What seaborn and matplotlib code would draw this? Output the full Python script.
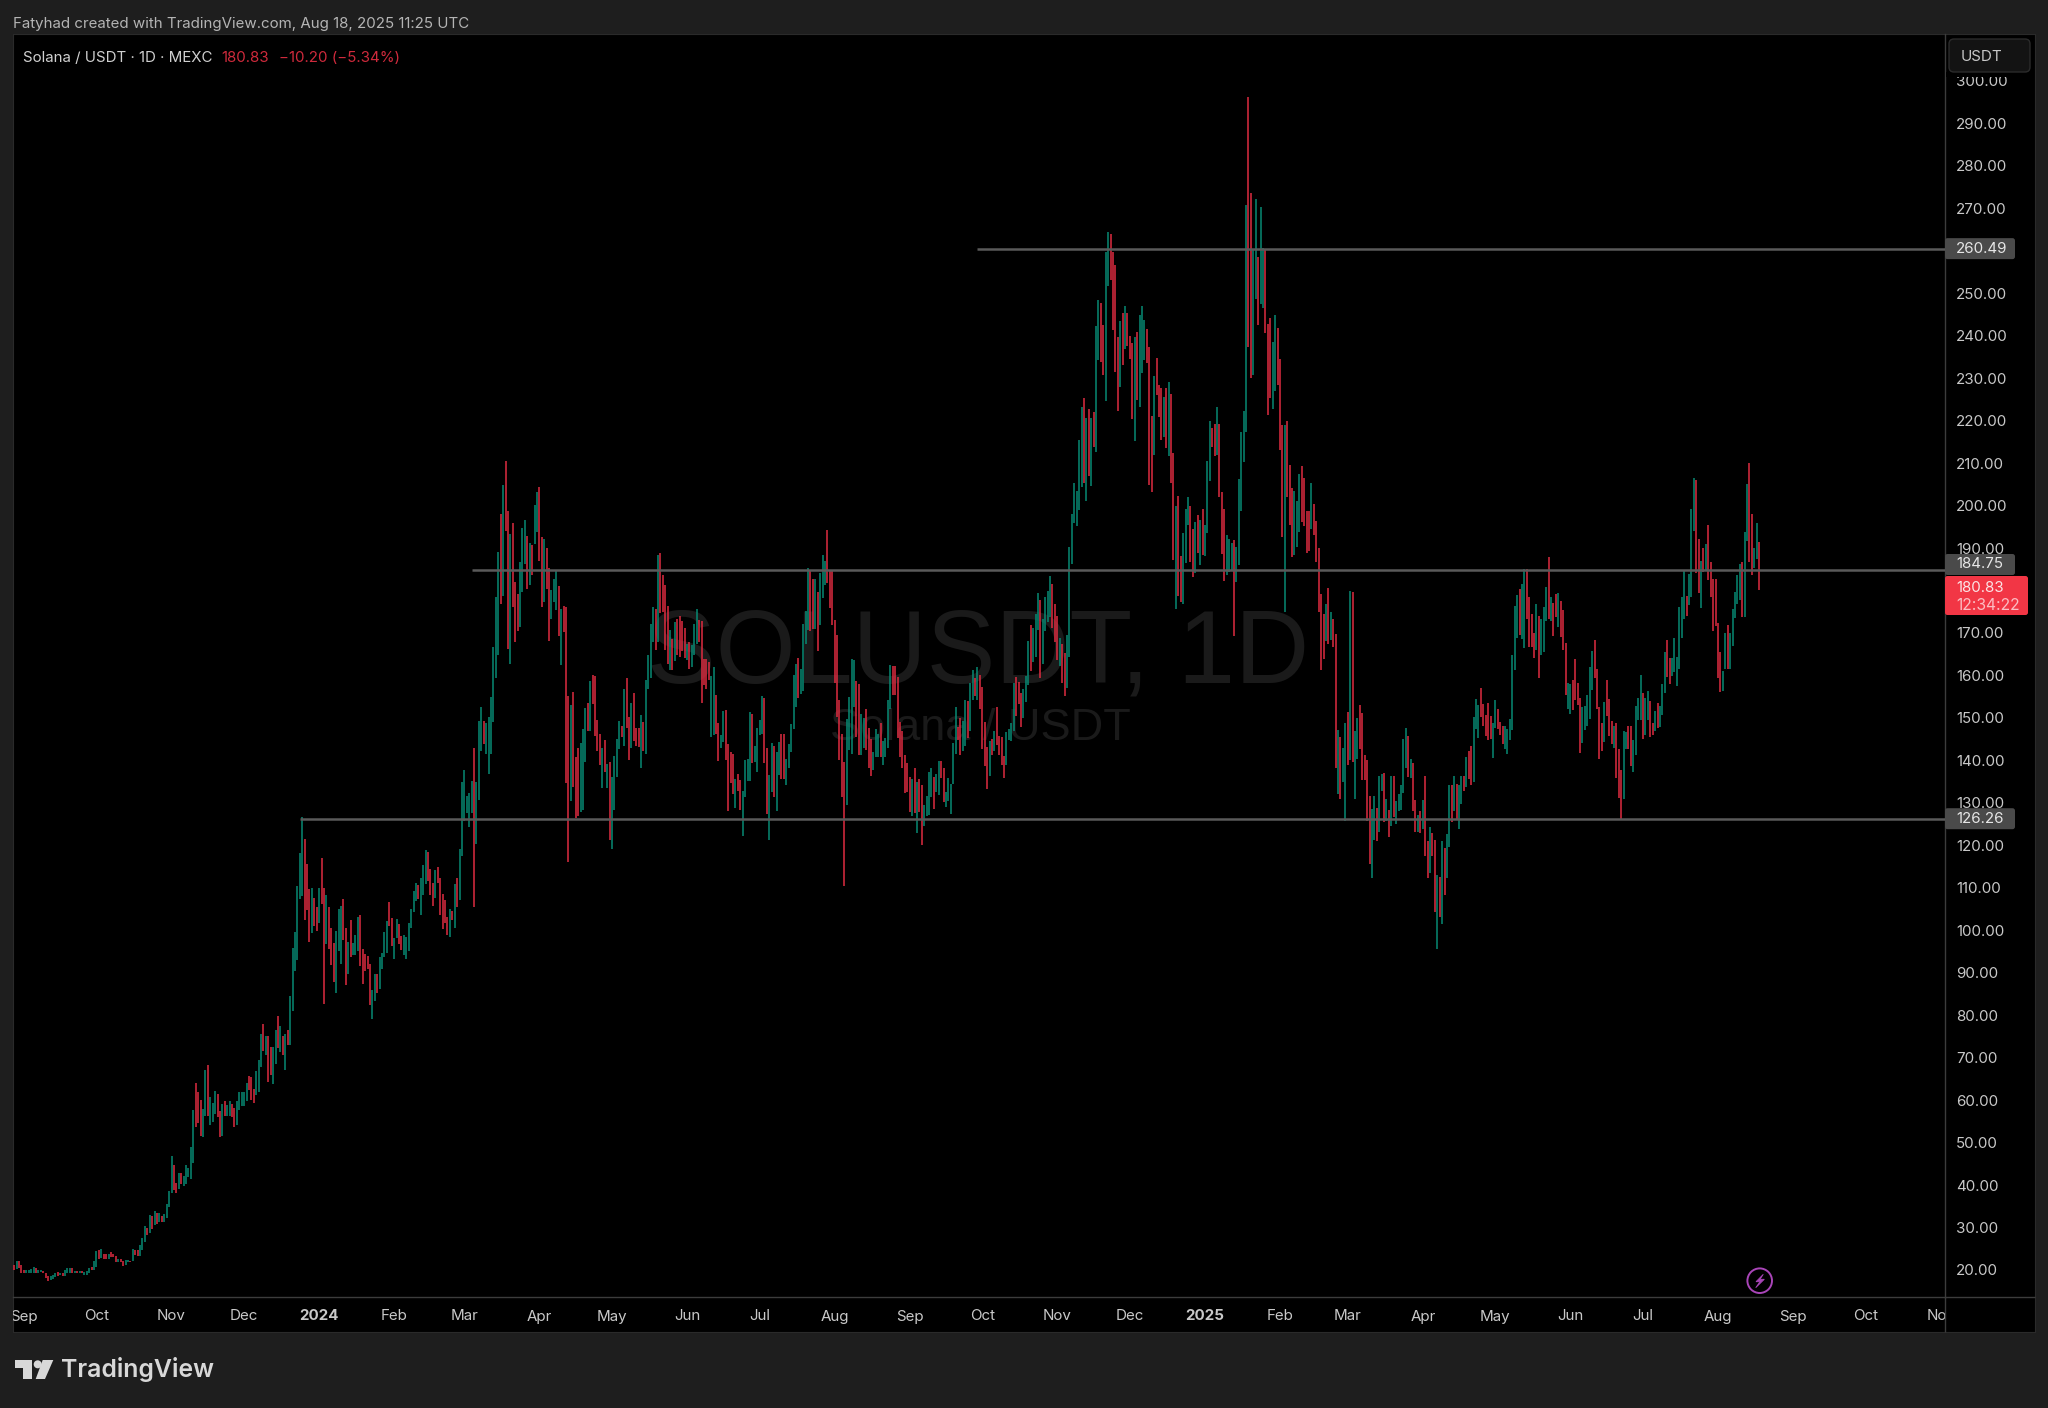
import matplotlib
matplotlib.use('Agg')
import matplotlib.pyplot as plt
import numpy as np
import pandas as pd
import seaborn as sns
from matplotlib.patches import Circle, FancyBboxPatch, Polygon, Rectangle
from matplotlib.transforms import Bbox


# Daily bars, left to right (price in USDT). u = up, d = down
highs_a = [21.2,22.1,22.0,21.2,20.0,19.9,20.0,20.2,20.6,20.4,
           20.1,20.1,19.8,19.4,18.6,18.7,18.8,19.4,19.5,19.4,
           19.4,20.1,20.4,20.5,20.5,19.8,19.8,19.8,19.7,19.6,
           19.8,20.4,20.6,22.0,24.5,24.8]
lows_a = [20.0,20.2,20.4,19.4,19.2,19.2,19.2,19.2,19.4,19.4,
          19.4,19.5,19.4,18.0,17.5,17.6,17.9,18.3,18.6,18.8,
          18.7,18.6,19.2,19.4,19.4,19.2,19.2,19.2,19.2,18.8,
          18.9,19.2,20.0,20.0,20.8,22.7]
sides_a = 'duddduuuud' 'uuddduuudu' 'duuudududu' 'uuduud'

highs_b = [24.9,23.8,23.8,23.8,24.2,23.8,23.3,22.5,22.5,22.0,
           22.4,22.4,22.2,24.9,24.6,24.6,25.9,27.5,30.4,30.0,
           33.0,32.7,33.9,33.4,33.4,32.7,33.2,35.5,38.7,46.9,
           44.7,40.4,42.8,42.8,42.2,44.7,44.0,48.9,57.7,64.0,
           61.9,60.1,58.0,67.1,68.3,60.7,59.3,62.2,61.5,57.5,
           59.1,59.7,58.9,59.8,59.1,58.1,59.7,61.9,61.9,61.9,
           64.0,65.7,65.4,62.6,66.9,69.5,75.5,78.0,75.1,75.1,
           72.6,72.6,76.4,79.7,77.5,75.1,75.5,76.5,84.4,95.8,
           99.6,110.3,118.1,126.6,121.4,115.5,109.7,109.9,107.7,105.4,
           109.9,117.1,109.9,108.2,105.4,100.5,96.9,99.9,105.0,105.6,
           107.4,100.5,97.2,102.4,96.9,98.8,103.0,103.6,95.5,94.4,
           94.0,92.1,86.0,89.6,89.7,93.6,94.6,99.6,102.2,106.6,
           102.8,98.2,102.6,101.4,98.7,98.9,98.5,101.7,105.0,109.3,
           111.1,110.7,112.4,115.4,118.8,118.5,114.5,111.1,114.2,114.9,
           112.3,108.5,107.2,103.2,105.0,104.6,110.9,112.3,119.2]
lows_b = [22.8,22.5,22.5,22.5,23.0,23.0,21.8,21.8,21.8,21.0,
          21.2,21.8,21.8,22.0,23.6,23.4,23.4,24.7,26.7,28.3,
          28.7,29.6,30.6,30.9,31.4,31.4,31.4,32.2,34.8,38.1,
          38.9,38.2,39.0,40.2,39.8,40.3,42.0,41.5,45.1,53.6,
          54.7,51.6,51.2,56.3,56.3,54.2,54.8,56.8,56.1,51.4,
          51.6,56.3,56.3,56.3,56.1,53.6,54.1,57.7,58.7,58.7,
          59.7,62.4,60.0,59.3,61.2,61.8,67.9,71.6,70.7,64.2,
          65.8,63.8,68.4,72.2,71.4,70.7,67.1,73.0,73.0,81.1,
          90.4,92.9,107.4,108.0,102.3,104.8,97.3,99.3,100.9,99.9,
          101.7,106.2,82.7,96.8,95.5,91.7,87.9,85.3,95.1,92.1,
          97.7,87.1,89.7,93.8,94.2,94.2,95.0,91.6,87.3,90.4,
          90.9,82.3,79.1,83.4,85.2,86.2,90.9,93.6,94.6,101.1,
          96.2,93.3,98.1,96.8,95.4,94.2,93.3,95.0,100.5,104.4,
          107.0,107.4,103.6,108.3,110.8,111.6,108.2,105.8,107.7,111.1,
          103.5,100.3,101.7,98.8,98.5,102.3,100.5,105.4,107.2]
sides_b = ('uddudddudd' 'uududduuud' 'udududuuuu' 'dduduuuuud' 'dduuduuudd'
           'uduudduuuu' 'uddduuudud' 'duudududuu' 'uuuudddudd' 'udduddduuu'
           'dduduuuddd' 'dduuduuuud' 'duudduuuuu' 'uduuudddud' 'ddddududu')

highs_c = [134.8,137.8,131.6,132.2,135.1,142.8,134.9,149.3,152.6,149.2,
           148.7,150.2,155.0,166.7,178.5,189.1,198.0,204.8,210.4,198.8,
           193.2,195.8,181.9,179.1,186.8,194.6,196.7,192.8,191.1,190.8,
           200.1,203.2,204.4,192.6,192.1,190.1,185.2,180.1,182.8,184.8,
           181.0,175.6,176.4,176.2,155.1,153.0,156.1,140.7,142.8,144.1,
           147.5,152.4,153.4,158.7,160.1,159.9,149.6,146.2,143.0,144.8,
           139.1,139.7,136.1,141.0,145.0,149.2,148.0,156.9,159.3,150.1,
           153.4,155.9,147.7,147.7,150.6,149.1,158.9,164.8,172.1,176.0,
           175.6,188.3,188.9,183.6,181.3,176.3,170.7,168.5,172.6,173.2,
           174.0,172.8,171.1,167.4,167.9,167.1,172.0,175.7,173.0,172.8,
           163.8,163.8,163.2,159.8,161.9,155.4,148.9,145.9,151.6,151.8,
           143.8,141.9,141.4,135.5,136.9,135.3,132.8,140.0,140.4,151.3,
           150.9,143.3,147.7,149.5,155.1,154.6,142.8,136.5,144.2,143.3,
           142.0,144.4,146.2,146.2,140.4,143.8,148.5,160.0,162.6,164.0,
           161.6,172.2,175.2,185.2,184.9,182.8,182.6,179.7,184.2,188.3,
           186.9,194.2,184.8,184.8,173.0,169.6,154.2]
lows_c = [117.4,125.8,127.5,124.4,127.5,105.4,120.3,130.6,142.2,143.8,
          141.6,136.7,141.6,149.0,159.5,164.8,176.9,178.7,194.0,166.2,
          162.8,176.0,167.8,170.5,171.4,179.7,186.2,180.3,181.3,183.6,
          190.9,193.8,187.0,176.2,177.2,180.3,168.1,173.2,177.2,175.4,
          169.3,162.4,170.3,134.7,116.1,130.5,133.8,126.5,126.9,127.9,
          128.3,139.7,146.9,146.9,153.2,145.7,142.2,138.9,133.4,137.3,
          133.4,121.2,119.1,128.4,136.1,142.6,145.4,143.4,147.7,140.2,
          142.8,144.6,143.3,143.2,138.1,142.2,141.4,156.7,159.5,167.9,
          166.1,167.9,174.6,175.0,166.1,162.7,161.2,161.2,163.4,164.8,
          164.4,165.8,164.0,163.6,161.6,162.0,164.8,167.5,167.9,153.4,
          157.7,156.7,158.9,145.5,145.9,146.2,139.9,143.0,144.4,140.0,
          128.1,134.7,132.0,128.8,132.8,128.4,122.2,131.4,135.2,135.2,
          139.3,139.7,137.3,146.0,146.3,139.4,127.3,121.2,132.6,131.4,
          128.0,136.5,135.7,135.7,134.2,138.1,142.0,147.3,152.6,154.8,
          155.6,156.4,167.5,170.7,170.5,171.0,171.0,165.7,171.8,178.3,
          181.3,181.8,175.8,171.8,158.1,150.3,140.1]
sides_c = ('uuuuuduuud' 'uuuuuududd' 'uddduuudud' 'uuddudduuu' 'dudddudddu'
           'uududdddud' 'uduuuududd' 'uddduduuuu' 'duddddudud' 'ddduduuudd'
           'ddduudduud' 'dddudduuuu' 'duuuudduud' 'uudduuuuud' 'uuuudduduu' 'udddddd')

highs_d = [146.1,139.7,149.7,155.0,163.8,163.6,158.7,158.0,150.9,149.9,
           152.2,147.7,145.0,142.0,147.5,146.2,148.7,144.5,145.2,154.2,
           162.4,162.2,162.2,159.7,149.1,146.9,141.2,139.3,136.1,135.6,
           138.1,134.8,135.5,134.3,129.6,131.7,137.3,138.1,136.1,136.9,
           139.8,139.8,138.1,132.6,135.8,134.4,144.2,152.5,147.8,149.9,
           149.3,154.2,154.0,158.1,161.3,159.5,161.9,160.1,157.3,149.1,
           143.2,144.6,145.0,146.9,152.5,145.7,145.4,141.0,146.6,147.5,
           148.9,158.3,159.7,158.4,155.8,156.8,159.9,168.1,171.9,171.1,
           174.5,179.3,177.8,173.4,178.4,179.9,183.4,181.5,176.8,174.0,
           168.7,167.3,165.2,169.5,190.2]
lows_d = [131.4,110.3,129.5,142.4,141.5,152.6,145.6,141.3,141.3,143.0,
          142.4,138.1,136.4,137.7,140.9,140.7,140.9,138.9,140.9,142.8,
          152.1,155.5,155.5,145.3,140.7,138.3,132.4,132.6,127.9,127.0,
          127.5,122.8,127.9,120.1,124.5,126.9,127.1,131.4,128.5,132.6,
          131.8,135.8,130.3,129.1,130.4,127.3,134.4,141.5,144.8,141.3,
          142.3,143.4,145.2,146.9,154.2,155.2,154.2,152.0,142.6,138.7,
          133.2,136.2,141.3,142.3,143.5,141.3,138.9,135.8,138.9,144.8,
          144.6,147.0,150.4,153.2,147.9,149.9,153.7,157.7,161.1,163.1,
          164.4,170.7,159.5,162.7,170.5,172.6,173.7,171.1,167.8,163.6,
          162.3,158.1,155.2,157.0,164.4]
sides_d = ('dduuuudduu' 'ddduuuduuu' 'uddddddddu' 'dudduuuudu' 'udduuuuudd'
           'uuduududdd' 'dududddduu' 'uuddduuudu' 'uuduuuuddd' 'udduu')

highs_e = [198.0,205.2,203.5,215.4,223.1,225.3,220.6,222.8,220.6,222.0,
           242.2,248.5,247.6,242.4,259.7,264.5,264.0,259.8,256.7,239.8,
           243.4,245.4,247.0,245.4,239.9,238.2,239.8,240.9,244.9,247.0,
           243.7,241.6,237.4,221.0,230.6,234.8,228.5,227.6,225.5,227.7,
           229.0,226.2,212.3,199.9,202.2,188.1,193.6,199.1,202.0,199.9,
           194.5,196.2,197.8,196.6,199.3,195.5,210.6,220.0,218.2,219.2,
           223.2,219.3,203.3,199.3,193.1,192.1,191.1,191.9,190.2,206.2,
           217.2,222.2,270.8,296.2,273.5,260.2,272.2,258.6,270.2,260.7,
           260.4,242.8,244.1,238.6,244.9,241.9,234.4,218.9,218.9,220.0,
           209.5,204.1,203.5,201.0,207.5,209.2,206.4,198.6,198.6,205.4,
           200.4,196.3,189.9]
lows_e = [186.2,195.9,195.1,198.9,204.3,205.2,201.0,207.0,204.7,213.7,
          212.5,234.2,233.8,230.8,224.5,251.8,253.1,241.3,231.5,222.2,
          227.9,233.1,236.9,237.5,234.6,220.3,215.3,224.9,223.2,231.2,
          234.3,233.6,204.9,203.3,211.9,226.0,220.9,215.4,216.1,213.6,
          211.7,205.2,187.2,175.6,178.7,177.2,176.7,186.4,195.3,186.8,
          183.1,184.1,188.8,186.1,188.3,188.2,193.6,205.8,213.8,211.7,
          211.9,202.0,188.6,182.2,183.7,184.3,184.6,169.2,182.0,186.1,
          198.7,210.2,217.4,237.3,230.0,230.8,248.7,242.4,247.5,246.6,
          240.7,221.4,225.3,222.8,227.0,228.5,213.0,192.7,174.9,202.0,
          195.5,187.8,188.3,190.2,193.8,196.1,195.2,188.8,189.2,194.4,
          193.0,186.7,175.0]
sides_e = ('uuuuududud' 'uudduudddd' 'ududdduduu' 'udddudddud' 'uddudduuud'
           'dududuuudd' 'uddduuuduu' 'uuudduuduu' 'ddduudddud' 'dduuuddddu' 'ddd')

highs_f = [179.2,174.4,176.9,180.5,174.9,173.2,169.7,147.2,145.4,143.0,
           148.8,151.3,179.9,179.6,147.0,149.9,153.1,151.1,141.3,140.1,
           131.7,128.6,131.7,128.7,136.2,136.8,137.0,130.9,128.3,136.2,
           136.2,130.5,132.0,134.2,145.0,147.6,145.8,140.3,139.3,130.7,
           127.2,128.1,130.7,136.3,121.1,124.2,122.8,121.3,113.0,112.6,
           120.9,119.3,122.7,134.2,134.1,136.3,134.5,134.1,136.3,136.2,
           140.7,142.1,143.3,150.3,154.4,153.1,157.1,153.2,150.7,153.6,
           150.5,148.7,154.2,152.1,149.1,148.0,148.0,147.4,149.8,164.7]
lows_f = [161.2,163.9,168.0,167.4,168.4,166.8,138.2,132.1,130.9,134.9,
          125.8,138.8,140.1,139.5,130.9,140.4,142.7,135.4,135.4,125.8,
          115.6,112.2,121.3,121.1,123.1,132.7,125.4,125.8,121.9,124.6,
          126.6,125.0,128.0,128.3,132.3,138.3,136.0,135.8,128.0,123.1,
          123.1,123.0,123.9,117.5,112.4,113.4,117.4,104.2,95.5,103.2,
          101.4,108.3,112.4,119.5,125.6,128.1,126.0,123.8,129.7,132.7,
          133.8,135.6,134.1,134.9,147.4,145.2,150.1,148.0,145.8,144.8,
          145.1,140.5,147.6,147.4,146.0,143.8,142.7,141.5,144.8,147.2]
sides_f = ('ddududdudu' 'ududuudddd' 'duuduududu' 'duuuuududd' 'ududduddud'
           'uduududuud' 'udduuudddd' 'duuddduuuu')

highs_g = [176.3,179.0,180.3,181.5,185.0,185.0,178.4,174.4,170.0,176.8,
           174.0,173.2,176.2,180.9,187.8,178.4,177.0,179.1,179.5,177.5,
           175.4,167.7,158.1,158.0,159.0,163.8,158.1,154.7,152.5,152.9,
           155.4,161.9,165.7,168.3,161.4,152.6,148.7,153.8,158.9,154.4,
           149.3,148.1,148.9,142.6,137.7,147.0,146.7,148.1,148.1,144.9,
           152.8,154.8,160.1,155.8,154.6,156.4,154.0,148.7,151.7,153.6,
           152.9,158.0,165.4,168.3,164.0,164.2,168.7,164.4,176.2,178.4,
           184.8,178.7,183.8,199.3,206.4,206.0,192.1,187.0,189.9,190.9,
           195.4,186.8,182.7,182.8,172.4,165.4,161.0,169.9,171.8,170.0,
           175.6,179.7,183.6,186.2,186.8,193.8,205.0,209.9,198.1,190.1,
           196.0,191.5]
lows_g = [161.3,168.9,169.5,168.5,166.4,173.4,166.7,166.6,164.2,166.0,
          159.5,164.8,165.6,172.9,173.4,172.9,169.3,173.8,171.5,169.1,
          166.1,155.4,152.2,150.8,151.8,154.3,153.0,141.8,144.1,147.1,
          148.1,149.7,156.5,159.4,152.2,140.4,142.2,144.4,150.5,145.8,
          143.8,143.0,135.9,131.2,126.3,130.9,142.6,142.6,138.7,137.3,
          141.2,149.5,149.5,145.0,146.0,149.5,145.4,146.0,147.0,147.7,
          147.9,150.7,155.9,159.7,158.0,159.8,160.7,157.5,161.6,168.9,
          173.4,174.0,176.6,178.5,194.1,184.2,179.3,175.8,184.4,184.6,
          182.4,178.5,170.4,171.6,159.4,156.0,156.4,161.5,161.5,161.4,
          166.9,173.6,176.9,177.7,173.8,173.8,191.7,186.8,183.6,185.2,
          187.5,180.2]
sides_g = ('uuduuddddu' 'duuududdud' 'dduudddduu' 'uuuddddudd' 'duddduuddu'
           'uuuduuddud' 'uuudduuuuu' 'uduuuddudu' 'dddddduudu' 'uuuuduuddu' 'ud')

last_date = '2025-08-18'

# Horizontal levels drawn on the chart
level_prices = [260.49, 184.75, 126.26]
level_starts = ['2024-09-29', '2024-03-04', '2023-12-24']
level_end = '2025-11-02 19:00'

price_ticks = list(range(20, 310, 10))

month_dates = ['2023-09-01', '2023-10-01', '2023-11-01', '2023-12-01', '2024-01-01',
               '2024-02-01', '2024-03-01', '2024-04-01', '2024-05-01', '2024-06-01',
               '2024-07-01', '2024-08-01', '2024-09-01', '2024-10-01', '2024-11-01',
               '2024-12-01', '2025-01-01', '2025-02-01', '2025-03-01', '2025-04-01',
               '2025-05-01', '2025-06-01', '2025-07-01', '2025-08-01', '2025-09-01',
               '2025-10-01', '2025-11-01']
month_labels = ['Sep', 'Oct', 'Nov', 'Dec', '2024', 'Feb', 'Mar', 'Apr', 'May', 'Jun',
                'Jul', 'Aug', 'Sep', 'Oct', 'Nov', 'Dec', '2025', 'Feb', 'Mar', 'Apr',
                'May', 'Jun', 'Jul', 'Aug', 'Sep', 'Oct', 'Nov']

GREEN = '#078a74'
RED = '#de2c40'
FRAME = '#1e1e1e'
LINE = '#3c3c3c'
W, H = 2048, 1408


def axes_px(x0, y0, x1, y1, **kw):
    return fig.add_axes([x0 / W, 1 - y1 / H, (x1 - x0) / W, (y1 - y0) / H], **kw)


sections = [(highs_a, lows_a, sides_a), (highs_b, lows_b, sides_b), (highs_c, lows_c, sides_c),
            (highs_d, lows_d, sides_d), (highs_e, lows_e, sides_e), (highs_f, lows_f, sides_f),
            (highs_g, lows_g, sides_g)]
highs, lows, sides = [], [], ''
for h, l, s in sections:
    if not len(h) == len(l) == len(s):
        raise ValueError('section lengths %d %d %d' % (len(h), len(l), len(s)))
    highs += h
    lows += l
    sides += s

dates = pd.date_range(end=last_date, periods=len(highs))
bars = pd.DataFrame({'date': dates, 'bar': range(len(dates)), 'high': highs,
                     'low': lows, 'side': list(sides)})
long_bars = bars.melt(id_vars=['date', 'bar', 'side'], value_vars=['high', 'low'],
                      value_name='price')

sns.set_theme(style='dark', rc={'figure.facecolor': FRAME, 'axes.facecolor': 'none',
                                'lines.solid_capstyle': 'butt'})
plt.rcParams['font.family'] = ['Inter', 'DejaVu Sans']

fig = plt.figure(figsize=(W / 100, H / 100), dpi=100)

back = axes_px(13, 34, 2035, 1332, facecolor='black', zorder=0)
back.set_xticks([])
back.set_yticks([])
for s in back.spines.values():
    s.set_color('#2a2a2a')
    s.set_linewidth(0.8)

ax = axes_px(13, 34, 1945, 1297, zorder=1)

# overlay in pixel coords for badges, header text and logo
ov = fig.add_axes([0, 0, 1, 1], zorder=10, facecolor='none')
ov.set_xlim(0, W)
ov.set_ylim(H, 0)
ov.axis('off')


def price_y(p):
    return 1270 - (p - 20) * 4.247


# watermark sits under the bars
ax.text(978, 656, 'SOLUSDT, 1D', transform=ov.transData, ha='center', va='center',
        fontsize=74, color='#1a1a1a', family='Liberation Sans', zorder=0)
ax.text(980, 729, 'Solana / USDT', transform=ov.transData, ha='center', va='center',
        fontsize=32.5, color='#1a1a1a', family='Liberation Sans', zorder=0)

sns.lineplot(data=long_bars, x='date', y='price', hue='side', units='bar', estimator=None,
             palette={'u': GREEN, 'd': RED}, linewidth=1.1, legend=False, ax=ax, zorder=2)

for price, start in zip(level_prices, level_starts):
    ax.plot([pd.Timestamp(start), pd.Timestamp(level_end)], [price, price],
            color='#5a5a5a', lw=1.8, zorder=3)

ax.set_xlim(pd.Timestamp('2023-08-27 12:00'), pd.Timestamp(level_end))
ax.set_ylim(13.64, 311.03)
ax.set_xlabel('')
ax.set_ylabel('')
ax.grid(False)

ax.yaxis.tick_right()
ax.set_yticks(price_ticks, labels=['%.2f' % p for p in price_ticks])
ax.tick_params(axis='y', length=0, pad=8, labelsize=10.9, labelcolor='#c8c8c8')
ax.set_xticks(pd.to_datetime(month_dates), labels=month_labels)
ax.tick_params(axis='x', length=0, pad=9, labelsize=10.9, labelcolor='#c8c8c8')

# month labels get cut at the pane edges, same as the screenshot
pane_clip = Bbox.from_extents(13, 0, 1945, H)
for lab in ax.get_xticklabels():
    lab.set_clip_on(True)
    lab.set_clip_box(pane_clip)
    if lab.get_text() in ('2024', '2025'):
        lab.set_fontweight('bold')

for name, s in ax.spines.items():
    s.set_visible(name in ('bottom', 'right'))
    s.set_color(LINE)
    s.set_linewidth(1.0)
ov.plot([1945, 1945], [1297, 1332], color=LINE, lw=1.0)
ov.plot([1945, 2035], [1297, 1297], color=LINE, lw=1.0)

# header
ov.text(13, 24, 'Fatyhad created with TradingView.com, Aug 18, 2025 11:25 UTC',
        color='#b4b4b4', fontsize=10.85, va='center')
ov.text(23, 58, 'Solana / USDT · 1D · MEXC', color='#d0d0d0', fontsize=10.85, va='center')
ov.text(221, 58, '180.83', color='#cf2a3c', fontsize=10.85, va='center')
ov.text(279, 58, '−10.20 (−5.34%)', color='#cf2a3c', fontsize=10.85, va='center')

# currency box, it cuts the top of the 300.00 label
ov.add_patch(Rectangle((1946, 72), 88, 4.5, fc='black', ec='none'))
ov.add_patch(FancyBboxPatch((1949, 39), 81, 33, boxstyle='round,pad=0,rounding_size=5',
                            fc='#131313', ec='#2b2b2b', lw=1))
ov.text(1961, 57, 'USDT', color='#c8c8c8', fontsize=10.9, va='center')

# level badges, 184.75 is pushed up clear of the last price badge
badge_centers = [price_y(level_prices[0]), 564.5, price_y(level_prices[2])]
for price, y in zip(level_prices, badge_centers):
    ov.add_patch(FancyBboxPatch((1945, y - 10.5), 70, 21, boxstyle='round,pad=0,rounding_size=2.5',
                                fc='#4a4a4a', ec='none'))
    ov.text(1956, y, '%.2f' % price, color='#e6e6e6', fontsize=10.9, va='center')

# last price badge
ov.add_patch(FancyBboxPatch((1945, 576), 83, 39, boxstyle='round,pad=0,rounding_size=2.5',
                            fc='#f23645', ec='none'))
ov.text(1956, 587.5, '180.83', color='#fbe3e5', fontsize=10.9, va='center')
ov.text(1956, 605, '12:34:22', color='#fcbcc2', fontsize=11.3, va='center')

# lightning marker on the last bar
ov.add_patch(Circle((1759.7, 1280.7), 12.3, fc='none', ec='#a945b8', lw=1.4))
ov.add_patch(Polygon([(1763.3, 1274.3), (1756, 1281.7), (1760, 1281.7), (1755.7, 1287.7),
                      (1764.3, 1279.3), (1760, 1279.3)], fc='#a945b8', ec='#a945b8', lw=0.6))

# TradingView logo
logo = '#d8d8d8'
ov.add_patch(Polygon([(15, 1360), (31.7, 1360), (31.7, 1379), (22.7, 1379), (22.7, 1368.3), (15, 1368.3)],
                     fc=logo, ec='none'))
ov.add_patch(Circle((37.7, 1364.3), 4, fc=logo, ec='none'))
ov.add_patch(Polygon([(42.7, 1360), (53.3, 1360), (45, 1379), (35.7, 1379)], fc=logo, ec='none'))
ov.text(61, 1370, 'TradingView', color=logo, fontsize=17.9, fontweight='semibold', va='center')

fig.savefig('out.png', dpi=100, facecolor=FRAME)
